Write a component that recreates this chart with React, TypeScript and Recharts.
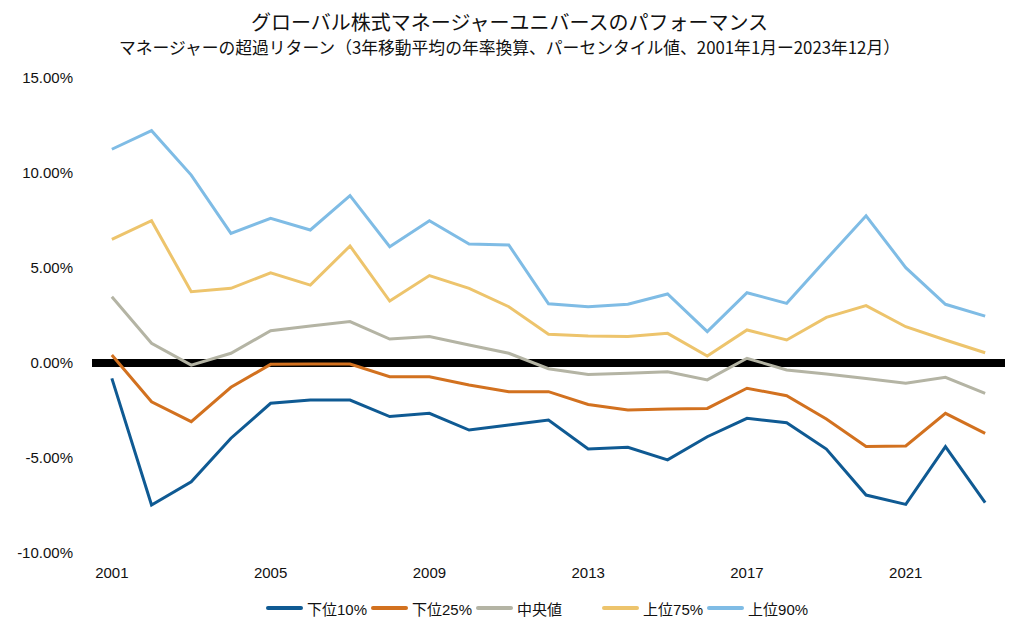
import { LineChart, Line, XAxis, YAxis, ReferenceLine } from "recharts";

const YEARS = [
  2001, 2002, 2003, 2004, 2005, 2006, 2007, 2008, 2009, 2010, 2011, 2012,
  2013, 2014, 2015, 2016, 2017, 2018, 2019, 2020, 2021, 2022, 2023,
];

// 下位10%
const P10 = [
  -0.81, -7.47, -6.25, -3.96, -2.12, -1.95, -1.95, -2.82, -2.65, -3.53, -3.26, -3.0,
  -4.53, -4.44, -5.1, -3.88, -2.91, -3.14, -4.53, -6.95, -7.44, -4.4, -7.35,
];
// 下位25%
const P25 = [
  0.42, -2.04, -3.09, -1.28, -0.07, -0.05, -0.05, -0.72, -0.72, -1.16, -1.51, -1.51,
  -2.18, -2.47, -2.42, -2.39, -1.33, -1.72, -2.95, -4.4, -4.37, -2.65, -3.7,
];
// 中央値
const P50 = [
  3.49, 1.04, -0.11, 0.51, 1.7, 1.95, 2.18, 1.26, 1.39, 0.95, 0.51, -0.3,
  -0.6, -0.54, -0.46, -0.89, 0.25, -0.37, -0.58, -0.81, -1.07, -0.75, -1.6,
];
// 上位75%
const P75 = [
  6.51, 7.49, 3.75, 3.93, 4.75, 4.1, 6.16, 3.26, 4.6, 3.93, 2.96, 1.51,
  1.42, 1.39, 1.56, 0.37, 1.74, 1.21, 2.4, 3.02, 1.91, 1.21, 0.54,
];
// 上位90%
const P90 = [
  11.25, 12.23, 9.89, 6.82, 7.61, 7.0, 8.81, 6.12, 7.49, 6.26, 6.21, 3.12,
  2.96, 3.09, 3.63, 1.65, 3.7, 3.14, 5.46, 7.75, 5.02, 3.09, 2.47,
];

const X_TICKS = [2001, 2005, 2009, 2013, 2017, 2021];
const Y_TICKS = [-10, -5, 0, 5, 10, 15];

const SERIES = [
  { key: "p10", name: "下位10%", color: "#0f5a93", values: P10 },
  { key: "p25", name: "下位25%", color: "#d2711f", values: P25 },
  { key: "p50", name: "中央値", color: "#b4b4a4", values: P50 },
  { key: "p75", name: "上位75%", color: "#edc46c", values: P75 },
  { key: "p90", name: "上位90%", color: "#7fbce5", values: P90 },
];

const data = YEARS.map((year, i) => {
  const row: any = { year };
  SERIES.forEach((s) => {
    row[s.key] = s.values[i];
  });
  return row;
});

const TICK_FONT = "'Liberation Sans', Arial, sans-serif";
const JP_FONT = "'Noto Sans CJK JP', 'Noto Sans', sans-serif";
const MIX_FONT = "'Liberation Sans', 'Noto Sans CJK JP', sans-serif";

export default function App() {
  return (
    <div
      style={{
        position: "absolute",
        left: 0,
        top: 0,
        width: 1019,
        height: 642,
        background: "#fff",
      }}
    >
      <div
        style={{
          position: "absolute",
          top: 8,
          width: 1019,
          textAlign: "center",
          fontFamily: JP_FONT,
          fontSize: 20,
          lineHeight: "28px",
          color: "#111",
        }}
      >
        グローバル株式マネージャーユニバースのパフォーマンス
      </div>
      <div
        style={{
          position: "absolute",
          top: 35,
          width: 1019,
          textAlign: "center",
          fontFamily: JP_FONT,
          fontSize: 16.8,
          lineHeight: "24px",
          color: "#111",
        }}
      >
        マネージャーの超過リターン（3年移動平均の年率換算、パーセンタイル値、2001年1月ー2023年12月）
      </div>

      <LineChart
        width={1019}
        height={642}
        data={data}
        margin={{ top: 78, right: 14, bottom: 59, left: 0 }}
        style={{ position: "absolute", left: 0, top: 0 }}
      >
        <ReferenceLine y={0} stroke="#000" strokeWidth={8} />
        <XAxis
          dataKey="year"
          type="number"
          domain={[2000.5, 2023.5]}
          ticks={X_TICKS}
          axisLine={false}
          tickLine={false}
          tickSize={0}
          tickMargin={14}
          height={30}
          tick={{ fontSize: 15, fill: "#111", fontFamily: TICK_FONT }}
        />
        <YAxis
          type="number"
          domain={[-10, 15]}
          ticks={Y_TICKS}
          width={92}
          axisLine={false}
          tickLine={false}
          tickSize={0}
          tickMargin={19}
          tickFormatter={(v: number) => v.toFixed(2) + "%"}
          tick={{ fontSize: 15, fill: "#111", fontFamily: TICK_FONT }}
        />
        {SERIES.map((s) => (
          <Line
            key={s.key}
            type="linear"
            dataKey={s.key}
            name={s.name}
            stroke={s.color}
            strokeWidth={3}
            dot={false}
            activeDot={false}
            isAnimationActive={false}
          />
        ))}
      </LineChart>

      <div
        style={{
          position: "absolute",
          top: 598,
          left: 266,
          display: "flex",
          alignItems: "center",
          fontFamily: MIX_FONT,
          fontSize: 15,
          color: "#111",
          height: 20,
        }}
      >
        {SERIES.map((s, i) => (
          <div
            key={s.key}
            style={{
              display: "flex",
              alignItems: "center",
              marginLeft: i === 0 ? 0 : i === 3 ? 40 : 4,
            }}
          >
            <div
              style={{
                width: 37,
                height: 4,
                borderRadius: 2,
                background: s.color,
                marginRight: 4,
              }}
            />
            <span>{s.name}</span>
          </div>
        ))}
      </div>
    </div>
  );
}
